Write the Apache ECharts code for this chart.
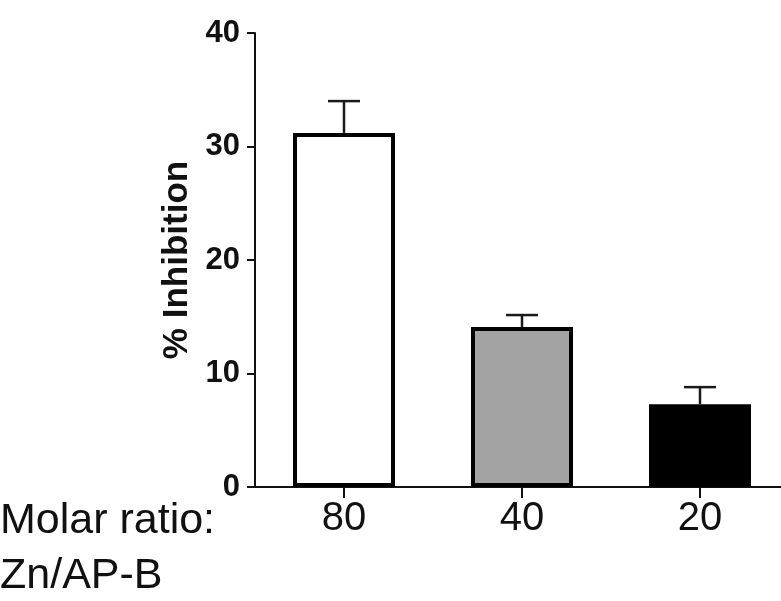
<!DOCTYPE html>
<html>
<head>
<meta charset="utf-8">
<style>
  html, body { margin: 0; padding: 0; background: #fff; }
  #chart { width: 781px; height: 601px; }
</style>
<script src="https://cdn.jsdelivr.net/npm/echarts@6/dist/echarts.min.js"></script>
</head>
<body>
<div id="chart"></div>
<script>
const categories = ['80', '40', '20'];
const values = [31.2, 14.1, 7.3];
const sem = [2.8, 1.05, 1.5];
const yAxisTitle = '% Inhibition';
const xGroupTitle = ['Molar ratio:', 'Zn/AP-B'];

const barColors = ['#ffffff', '#a3a3a3', '#000000'];
const FONT = '"Liberation Sans", Arial, Helvetica, sans-serif';

const chart = echarts.init(document.getElementById('chart'), null, { renderer: 'canvas' });

const barData = values.map((v, i) => ({
  value: v,
  itemStyle: { color: barColors[i] }
}));
const errData = values.map((v, i) => [i, v, v + sem[i]]);

const option = {
  backgroundColor: '#ffffff',
  animation: false,
  grid: { left: 255, width: 534, top: 33, bottom: 114, containLabel: false, outerBoundsMode: 'none' },
  xAxis: {
    type: 'category',
    data: categories,
    boundaryGap: true,
    axisLine: { show: true, lineStyle: { color: '#111', width: 2 } },
    axisTick: { show: true, alignWithLabel: true, length: 11, lineStyle: { color: '#111', width: 2 } },
    axisLabel: { color: '#111', fontFamily: FONT, fontSize: 40, margin: 12 },
    splitLine: { show: false }
  },
  yAxis: {
    type: 'value',
    min: 0, max: 40, interval: 10,
    name: yAxisTitle,
    nameLocation: 'middle',
    nameGap: 54,
    nameRotate: 90,
    nameTextStyle: { color: '#111', fontFamily: FONT, fontSize: 35, fontWeight: 'bold' },
    axisLine: { show: true, lineStyle: { color: '#111', width: 2 } },
    axisTick: { show: true, length: 8, lineStyle: { color: '#111', width: 2 } },
    axisLabel: { color: '#111', fontFamily: FONT, fontSize: 31, fontWeight: 'bold', margin: 15 },
    splitLine: { show: false }
  },
  series: [
    {
      type: 'bar',
      data: barData,
      barWidth: 102,
      itemStyle: { borderColor: '#000', borderWidth: 4 },
      z: 2
    },
    {
      type: 'custom',
      data: errData,
      z: 3,
      renderItem: function (params, api) {
        const x = api.value(0);
        const base = api.coord([x, api.value(1)]);
        const top = api.coord([x, api.value(2)]);
        const half = 16;
        const style = { stroke: '#1a1a1a', lineWidth: 2.5 };
        return {
          type: 'group',
          children: [
            { type: 'line', shape: { x1: top[0], y1: top[1], x2: base[0], y2: base[1] }, style: style },
            { type: 'line', shape: { x1: top[0] - half, y1: top[1], x2: top[0] + half, y2: top[1] }, style: style }
          ]
        };
      }
    }
  ],
  graphic: [
    { type: 'text', left: 0, top: 500, style: { text: xGroupTitle[0], fill: '#111', font: '43px ' + FONT } },
    { type: 'text', left: 0, top: 555, style: { text: xGroupTitle[1], fill: '#111', font: '43px ' + FONT } }
  ]
};

chart.setOption(option);
</script>
</body>
</html>
